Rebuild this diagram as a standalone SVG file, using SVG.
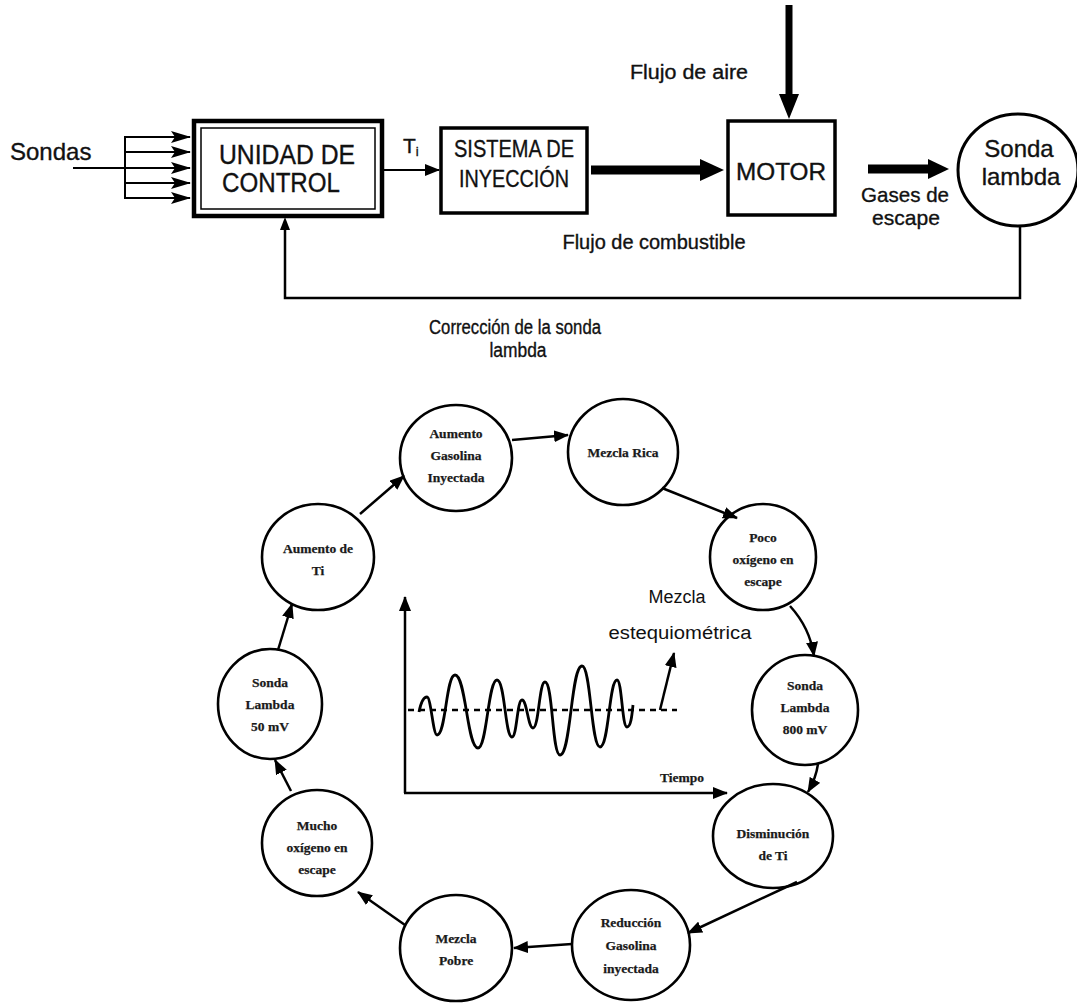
<svg xmlns="http://www.w3.org/2000/svg" width="1077" height="1008" viewBox="0 0 1077 1008">
<style>
.sans{font-family:"Liberation Sans",Arial,sans-serif;fill:#111;stroke:#111;stroke-width:0.35}
.plain{font-family:"Liberation Sans",Arial,sans-serif;fill:#111}
.serif{font-family:"Liberation Serif","Times New Roman",serif;font-weight:bold;font-size:13.5px;fill:#1a1a1a;stroke:#1a1a1a;stroke-width:0.25}
.box{fill:none;stroke:#000;stroke-width:3.5}
.ring{fill:none;stroke:#000;stroke-width:2.6}
.ln{fill:none;stroke:#000;stroke-width:2}
.ln25{fill:none;stroke:#000;stroke-width:2.5}
.head{fill:#000}
</style>
<defs>
<marker id="ah" markerUnits="userSpaceOnUse" markerWidth="15" markerHeight="12" refX="14" refY="6" orient="auto">
<path d="M0,0 L15,6 L0,12 Z" fill="#000"/>
</marker>
<marker id="ahs" markerUnits="userSpaceOnUse" markerWidth="20" markerHeight="12" refX="19" refY="6" orient="auto">
<path d="M0,0 L20,6 L0,12 L4,6 Z" fill="#000"/>
</marker>
</defs>
<rect width="1077" height="1008" fill="#fff"/>

<text class="sans" x="10" y="160" font-size="24">Sondas</text>

<g id="unidad">
<rect x="194" y="121" width="188" height="95" fill="none" stroke="#000" stroke-width="4.5"/>
<rect x="201" y="128" width="174" height="81" fill="none" stroke="#000" stroke-width="1.5"/>
<text class="sans" x="287" y="164" font-size="27" text-anchor="middle" textLength="136" lengthAdjust="spacingAndGlyphs">UNIDAD DE</text>
<text class="sans" x="281" y="192" font-size="27" text-anchor="middle" textLength="118" lengthAdjust="spacingAndGlyphs">CONTROL</text>
</g>

<g id="sistema">
<rect x="441" y="128" width="146" height="85" class="box"/>
<text class="sans" x="514" y="157" font-size="24" text-anchor="middle" textLength="120" lengthAdjust="spacingAndGlyphs">SISTEMA DE</text>
<text class="sans" x="514" y="187" font-size="24" text-anchor="middle" textLength="110" lengthAdjust="spacingAndGlyphs">INYECCIÓN</text>
</g>

<g id="motor">
<rect x="728" y="121" width="107" height="94" class="box"/>
<text class="sans" x="781" y="180" font-size="23" text-anchor="middle" textLength="90" lengthAdjust="spacingAndGlyphs">MOTOR</text>
</g>

<g id="sonda">
<ellipse cx="1018" cy="170" rx="60" ry="56" fill="none" stroke="#000" stroke-width="3"/>
<text class="sans" x="1019" y="157" font-size="24" text-anchor="middle">Sonda</text>
<text class="sans" x="1021" y="185" font-size="24" text-anchor="middle">lambda</text>
</g>

<g id="labels-top">
<text class="sans" x="403" y="153" font-size="21">T<tspan font-size="13" dy="3">i</tspan></text>
<text class="sans" x="689" y="79" font-size="20" text-anchor="middle" textLength="118" lengthAdjust="spacingAndGlyphs">Flujo de aire</text>
<text class="sans" x="654" y="249" font-size="20" text-anchor="middle" textLength="183" lengthAdjust="spacingAndGlyphs">Flujo de combustible</text>
<text class="sans" x="905" y="202" font-size="21" text-anchor="middle" textLength="88" lengthAdjust="spacingAndGlyphs">Gases de</text>
<text class="sans" x="906" y="225" font-size="21" text-anchor="middle" textLength="68" lengthAdjust="spacingAndGlyphs">escape</text>
<text class="sans" x="515" y="334" font-size="20" text-anchor="middle" textLength="172" lengthAdjust="spacingAndGlyphs">Corrección de la sonda</text>
<text class="sans" x="518" y="357" font-size="20" text-anchor="middle" textLength="57" lengthAdjust="spacingAndGlyphs">lambda</text>
</g>

<g id="connectors-top">
<line x1="73" y1="168" x2="125" y2="168" class="ln"/>
<line x1="125" y1="136" x2="125" y2="199" class="ln"/>
<line x1="125" y1="137" x2="190" y2="137" class="ln" marker-end="url(#ahs)"/>
<line x1="125" y1="152" x2="190" y2="152" class="ln" marker-end="url(#ahs)"/>
<line x1="125" y1="168" x2="190" y2="168" class="ln" marker-end="url(#ahs)"/>
<line x1="125" y1="183" x2="190" y2="183" class="ln" marker-end="url(#ahs)"/>
<line x1="125" y1="198" x2="190" y2="198" class="ln" marker-end="url(#ahs)"/>
<line x1="384" y1="170" x2="439" y2="170" class="ln" marker-end="url(#ah)"/>
<line x1="591" y1="170" x2="702" y2="170" stroke="#000" stroke-width="9"/>
<path class="head" d="M700,159 L724,170 L700,181 Z"/>
<line x1="789" y1="5" x2="789" y2="96" stroke="#000" stroke-width="7"/>
<path class="head" d="M779,94 L789,119 L799,94 Z"/>
<line x1="868" y1="169" x2="930" y2="169" stroke="#000" stroke-width="9"/>
<path class="head" d="M928,159 L949,169 L928,179 Z"/>
<path class="ln25" d="M1020,226 L1020,298 L285,298 L285,222"/>
<path class="head" d="M280,230 L285,217 L290,230 Z"/>
</g>

<g id="n1"><ellipse cx="456" cy="458" rx="56" ry="53" class="ring"/>
<text class="serif" x="456" y="438" text-anchor="middle">Aumento</text>
<text class="serif" x="456" y="460" text-anchor="middle">Gasolina</text>
<text class="serif" x="456" y="482" text-anchor="middle">Inyectada</text></g>
<g id="n2"><ellipse cx="623" cy="452" rx="55" ry="53" class="ring"/>
<text class="serif" x="623" y="457" text-anchor="middle">Mezcla Rica</text></g>
<g id="n3"><ellipse cx="763" cy="557" rx="53" ry="53" class="ring"/>
<text class="serif" x="763" y="542" text-anchor="middle">Poco</text>
<text class="serif" x="763" y="564" text-anchor="middle">oxígeno en</text>
<text class="serif" x="763" y="586" text-anchor="middle">escape</text></g>
<g id="n4"><ellipse cx="805" cy="710" rx="53" ry="55" class="ring"/>
<text class="serif" x="805" y="690" text-anchor="middle">Sonda</text>
<text class="serif" x="805" y="712" text-anchor="middle">Lambda</text>
<text class="serif" x="805" y="734" text-anchor="middle">800 mV</text></g>
<g id="n5"><ellipse cx="773" cy="836" rx="60" ry="52" class="ring"/>
<text class="serif" x="773" y="838" text-anchor="middle">Disminución</text>
<text class="serif" x="773" y="860" text-anchor="middle">de Ti</text></g>
<g id="n6"><ellipse cx="631" cy="945" rx="59" ry="55" class="ring"/>
<text class="serif" x="631" y="927" text-anchor="middle">Reducción</text>
<text class="serif" x="631" y="950" text-anchor="middle">Gasolina</text>
<text class="serif" x="631" y="973" text-anchor="middle">inyectada</text></g>
<g id="n7"><ellipse cx="456" cy="948" rx="56" ry="53" class="ring"/>
<text class="serif" x="456" y="943" text-anchor="middle">Mezcla</text>
<text class="serif" x="456" y="965" text-anchor="middle">Pobre</text></g>
<g id="n8"><ellipse cx="317" cy="843" rx="55" ry="53" class="ring"/>
<text class="serif" x="317" y="830" text-anchor="middle">Mucho</text>
<text class="serif" x="317" y="852" text-anchor="middle">oxígeno en</text>
<text class="serif" x="317" y="874" text-anchor="middle">escape</text></g>
<g id="n9"><ellipse cx="270" cy="704" rx="52" ry="55" class="ring"/>
<text class="serif" x="270" y="687" text-anchor="middle">Sonda</text>
<text class="serif" x="270" y="709" text-anchor="middle">Lambda</text>
<text class="serif" x="270" y="731" text-anchor="middle">50 mV</text></g>
<g id="n10"><ellipse cx="318" cy="557" rx="56" ry="53" class="ring"/>
<text class="serif" x="318" y="553" text-anchor="middle">Aumento de</text>
<text class="serif" x="318" y="575" text-anchor="middle">Ti</text></g>

<g id="connectors-ring">
<path class="ln25" d="M512,440 L568,435" marker-end="url(#ah)"/>
<path class="ln25" d="M662,488 L737,518" marker-end="url(#ah)"/>
<path class="ln25" d="M790,606 Q810,628 814,656" marker-end="url(#ah)"/>
<path class="ln25" d="M818,764 Q816,778 808,792" marker-end="url(#ah)"/>
<path class="ln25" d="M797,882 L688,933" marker-end="url(#ah)"/>
<path class="ln25" d="M572,944 L514,948" marker-end="url(#ah)"/>
<path class="ln25" d="M405,925 L358,892" marker-end="url(#ah)"/>
<path class="ln25" d="M291,791 L275,760" marker-end="url(#ah)"/>
<path class="ln25" d="M278,650 L292,604" marker-end="url(#ah)"/>
<path class="ln25" d="M360,514 L404,476" marker-end="url(#ah)"/>
</g>

<g id="graph">
<path class="ln25" d="M405,793 L405,597" marker-end="url(#ah)"/>
<path class="ln25" d="M404,793 L727,793" marker-end="url(#ah)"/>
<line x1="408" y1="710" x2="677" y2="710" stroke="#000" stroke-width="2.5" stroke-dasharray="6,5"/>
<path fill="none" stroke="#000" stroke-width="2.8" d="M419,712 C421,702 424,697 427,697 C431,697 433,735 437,735 C446,735 446,675 455,675 C466,675 467,748 478,748 C487,748 488,680 497,680 C505,680 505,737 512,737 C517,737 517,700 522,700 C527,700 528,728 533,728 C539,728 539,682 545,682 C553,682 552,755 560,755 C571,755 571,666 582,666 C591,666 591,747 600,747 C609,747 609,680 617,680 C622,680 622,727 627,727 C631,727 632,715 633,705"/>
<path class="ln25" d="M660,710 L674,653" marker-end="url(#ah)"/>
<text class="serif" x="682" y="782" text-anchor="middle" font-size="12">Tiempo</text>
<text class="plain" x="677" y="603" font-size="18" text-anchor="middle">Mezcla</text>
<text class="plain" x="680" y="639" font-size="18" text-anchor="middle" textLength="143" lengthAdjust="spacingAndGlyphs">estequiométrica</text>
</g>
</svg>
